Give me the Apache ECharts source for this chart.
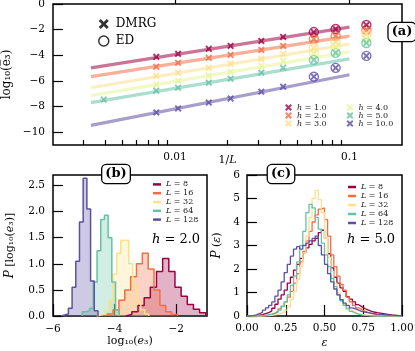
<!DOCTYPE html>
<html><head><meta charset="utf-8">
<script src="https://cdn.jsdelivr.net/npm/echarts@6/dist/echarts.min.js"></script>
<style>html,body{margin:0;padding:0;background:#fff}#c{width:415px;height:351px}</style>
</head><body><div id="c"></div>
<script>
// ================= Panel (a) data =================
const hLabels = ['1.0', '2.0', '3.0', '4.0', '5.0', '10.0'];
const sizesDMRG = [128, 96, 64, 48, 32, 24, 16, 12, 8];
const sizesDMRG_h5 = [256, 128, 96, 64, 48, 32, 24, 16, 12, 8];
const sizesED = [16, 12, 8];
const dmrg_h1 = [-4.12, -3.89, -3.50, -3.27, -2.88, -2.57, -2.19, -1.95, -1.64];
const dmrg_h2 = [-4.90, -4.59, -4.20, -3.97, -3.58, -3.27, -2.73, -2.50, -2.03];
const dmrg_h3 = [-5.60, -5.36, -4.98, -4.67, -4.28, -3.89, -3.43, -2.96, -2.34];
const dmrg_h4 = [-6.29, -5.98, -5.60, -5.29, -4.82, -4.43, -3.81, -3.35, -2.73];
const dmrg_h5 = [-7.46, -6.76, -6.53, -6.14, -5.83, -5.36, -4.98, -4.36, -3.81, -3.04];
const dmrg_h10 = [-8.46, -8.15, -7.69, -7.38, -6.84, -6.45, -5.67, -4.98, -4.05];
const ed_h1 = [-2.19, -1.95, -1.64];
const ed_h2 = [-2.73, -2.50, -2.03];
const ed_h3 = [-3.43, -2.96, -2.34];
const ed_h4 = [-3.81, -3.35, -2.73];
const ed_h5 = [-4.36, -3.81, -3.04];
const ed_h10 = [-5.67, -4.98, -4.05];
const fitInvL = [0.0033, 0.1];
const fit_h1 = [-4.98, -1.80];
const fit_h2 = [-5.67, -2.50];
const fit_h3 = [-6.53, -3.12];
const fit_h4 = [-7.15, -3.74];
const fit_h5 = [-7.69, -4.28];
const fit_h10 = [-9.47, -5.52];
const xMajorA = [0.01, 0.1];
const xMinorA = [0.003,0.004,0.005,0.006,0.007,0.008,0.009,0.02,0.03,0.04,0.05,0.06,0.07,0.08,0.09];
const yTicksA = [-10, -8, -6, -4, -2, 0];

// ================= Panel (b) data =================
const labelsL = ['8', '16', '32', '64', '128'];
const edgesB_L8 = [-3.64, -3.44, -3.24, -3.04, -2.84, -2.64, -2.44, -2.24, -2.04, -1.84, -1.64, -1.44, -1.24, -1.04];
const histB_L8 = [0.03, 0.08, 0.20, 0.35, 0.55, 0.85, 1.10, 0.85, 0.55, 0.38, 0.22, 0.13, 0.06];
const edgesB_L16 = [-4.24, -4.05, -3.86, -3.67, -3.48, -3.29, -3.10, -2.91, -2.72, -2.53, -2.34, -2.15, -1.96];
const histB_L16 = [0.04, 0.12, 0.30, 0.50, 0.75, 1.00, 1.20, 0.90, 0.50, 0.20, 0.08, 0.03];
const edgesB_L32 = [-4.58, -4.45, -4.32, -4.19, -4.06, -3.93, -3.80, -3.67, -3.54, -3.41, -3.28, -3.15, -3.02, -2.89];
const histB_L32 = [0.02, 0.04, 0.10, 0.30, 0.80, 1.20, 1.45, 1.45, 1.00, 0.60, 0.30, 0.12, 0.04];
const edgesB_L64 = [-5.05, -4.93, -4.81, -4.69, -4.57, -4.45, -4.33, -4.21, -4.09, -3.97, -3.85];
const histB_L64 = [0.08, 0.10, 0.15, 0.65, 1.25, 1.85, 1.93, 1.50, 0.65, 0.12];
const edgesB_L128 = [-5.74, -5.62, -5.50, -5.38, -5.26, -5.14, -5.02, -4.90, -4.78, -4.66, -4.54];
const histB_L128 = [0.02, 0.04, 0.15, 0.55, 1.05, 1.80, 2.64, 2.05, 0.67, 0.10];
const xTicksB = [-6, -4, -2];
const yTicksB = [0, 0.5, 1.0, 1.5, 2.0, 2.5];

// ================= Panel (c) data =================
const binStartC = 0.0, binWidthC = 0.02;
const histC_L8 = [0,0,0.02,0.04,0.06,0.10,0.14,0.22,0.33,0.50,0.72,0.90,1.10,1.40,1.65,1.95,2.20,2.45,2.70,2.90,3.05,3.20,3.30,3.55,3.65,3.30,2.65,2.05,1.65,1.40,1.20,1.05,0.82,0.72,0.60,0.48,0.40,0.32,0.26,0.21,0.17,0.14,0.12,0.10,0.08,0.06,0.04,0.03,0.02,0];
const histC_L16 = [0,0,0,0.01,0.02,0.03,0.05,0.08,0.12,0.20,0.30,0.42,0.60,0.80,1.05,1.40,1.80,2.30,2.75,3.20,3.60,4.00,4.30,4.55,4.60,4.10,3.40,2.60,2.10,1.70,1.35,1.10,0.80,0.60,0.45,0.35,0.28,0.20,0.15,0.11,0.08,0.06,0.04,0.03,0.02,0.01,0,0,0,0];
const histC_L32 = [0,0,0,0,0,0.01,0.02,0.03,0.05,0.07,0.10,0.15,0.25,0.40,0.70,1.05,1.55,2.10,2.70,3.40,4.20,5.00,5.35,4.95,4.40,3.30,2.50,1.90,1.40,1.00,0.70,0.50,0.35,0.25,0.16,0.10,0.07,0.05,0.03,0.02,0.01,0,0,0,0,0,0,0,0,0];
const histC_L64 = [0,0,0,0.01,0.02,0.03,0.05,0.07,0.10,0.15,0.25,0.40,0.60,0.90,1.30,1.70,2.30,3.00,3.60,4.40,4.75,4.60,4.20,3.70,3.10,2.60,2.10,1.60,1.25,0.90,0.65,0.45,0.30,0.20,0.12,0.08,0.05,0.03,0.02,0.01,0,0,0,0,0,0,0,0,0,0];
const histC_L128 = [0,0.02,0.05,0.10,0.15,0.25,0.35,0.45,0.60,0.85,1.10,1.45,1.85,2.20,2.55,2.85,2.95,2.85,3.00,3.10,3.20,3.30,3.40,3.00,2.60,2.20,1.80,1.45,1.15,0.90,0.70,0.55,0.45,0.35,0.30,0.25,0.20,0.17,0.14,0.12,0.10,0.08,0.07,0.06,0.05,0.04,0.04,0.03,0.02,0];
const xTicksC = [0, 0.25, 0.5, 0.75, 1.0];
const yTicksC = [0, 1, 2, 3, 4, 5, 6];

// ================= Styling =================
const FONT = 'DejaVu Serif';
const XPATH = 'path://M2,0L5,3L8,0L10,2L7,5L10,8L8,10L5,7L2,10L0,8L3,5L0,2Z';
const colorsA = ['#9e0142', '#f46d43', '#fee08b', '#e6f598', '#66c2a5', '#5e4fa2'];
const colorsBC = ['#9e0142', '#f46d43', '#fee08b', '#66c2a5', '#5e4fa2'];
const minus = v => (v < 0 ? '\u2212' : '') + Math.abs(v);
const lg = Math.log10;

const dmrgSizes = [sizesDMRG, sizesDMRG, sizesDMRG, sizesDMRG, sizesDMRG_h5, sizesDMRG];
const dmrgY = [dmrg_h1, dmrg_h2, dmrg_h3, dmrg_h4, dmrg_h5, dmrg_h10];
const edY = [ed_h1, ed_h2, ed_h3, ed_h4, ed_h5, ed_h10];
const fitY = [fit_h1, fit_h2, fit_h3, fit_h4, fit_h5, fit_h10];

const series = [];
hLabels.forEach((h, k) => {
  series.push({type: 'line', name: 'fit ' + h, xAxisIndex: 0, yAxisIndex: 0, symbol: 'none', silent: true, z: 1,
    data: fitInvL.map((x, j) => [lg(x), fitY[k][j]]),
    lineStyle: {color: colorsA[k], width: 3.2, opacity: 0.55}});
});
hLabels.forEach((h, k) => {
  series.push({type: 'scatter', name: 'ED ' + h, xAxisIndex: 0, yAxisIndex: 0, symbol: 'circle', symbolSize: 9, z: 2,
    data: sizesED.map((L, j) => [lg(1 / L), edY[k][j]]),
    itemStyle: {color: 'rgba(255,255,255,0)', borderColor: colorsA[k], borderWidth: 1.4}});
  series.push({type: 'scatter', name: 'h = ' + h, xAxisIndex: 0, yAxisIndex: 0, symbol: XPATH, symbolSize: 7, z: 3,
    data: dmrgSizes[k].map((L, j) => [lg(1 / L), dmrgY[k][j]]),
    itemStyle: {color: colorsA[k]}});
});
series.push({type: 'scatter', name: 'DMRG', xAxisIndex: 0, yAxisIndex: 0, data: [], symbol: XPATH, itemStyle: {color: '#000'}});
series.push({type: 'scatter', name: 'ED', xAxisIndex: 0, yAxisIndex: 0, data: [], symbol: 'circle',
  itemStyle: {color: 'rgba(255,255,255,0)', borderColor: '#000', borderWidth: 1.5}});

function stepData(edges, vals) {
  const d = [[edges[0], 0]];
  vals.forEach((v, i) => d.push([edges[i], v]));
  d.push([edges[edges.length - 1], 0]);
  return d;
}
const edgesB = [edgesB_L8, edgesB_L16, edgesB_L32, edgesB_L64, edgesB_L128];
const histB = [histB_L8, histB_L16, histB_L32, histB_L64, histB_L128];
labelsL.forEach((L, k) => {
  series.push({type: 'line', name: 'L = ' + L, xAxisIndex: 1, yAxisIndex: 1, step: 'end', symbol: 'none', z: 2,
    data: stepData(edgesB[k], histB[k]),
    lineStyle: {color: colorsBC[k], width: 1.5}, itemStyle: {color: colorsBC[k]},
    areaStyle: {color: colorsBC[k], opacity: 0.3}});
});
const histC = [histC_L8, histC_L16, histC_L32, histC_L64, histC_L128];
labelsL.forEach((L, k) => {
  const edges = [];
  for (let i = 0; i <= histC[k].length; i++) edges.push(+(binStartC + i * binWidthC).toFixed(4));
  series.push({type: 'line', name: 'L = ' + L, xAxisIndex: 3, yAxisIndex: 2, step: 'end', symbol: 'none', z: 2,
    data: stepData(edges, histC[k]),
    lineStyle: {color: colorsBC[k], width: 1.3}, itemStyle: {color: colorsBC[k]}});
});

const tickStyle = {color: '#000', width: 1.2};
const labelBase = {color: '#000', fontFamily: FONT, fontSize: 10.5};
const nameBase = {color: '#000', fontFamily: FONT, fontSize: 11, rich: {i: {fontStyle: 'italic', fontFamily: FONT, fontSize: 11}, p: {fontStyle: 'italic', fontFamily: FONT, fontSize: 12}}};
const legRich = {i: {fontStyle: 'italic', fontFamily: FONT, fontSize: 8}};
const gridBase = {show: true, borderColor: '#000', borderWidth: 1.5, backgroundColor: 'transparent', containLabel: false, outerBoundsMode: 'none'};

const option = {
  animation: false,
  backgroundColor: '#fff',
  grid: [
    Object.assign({left: 53, top: 4, width: 349, height: 141}, gridBase),
    Object.assign({left: 53, top: 175, width: 154, height: 141}, gridBase),
    Object.assign({left: 247, top: 175, width: 155, height: 141}, gridBase)
  ],
  xAxis: [
    {type: 'value', gridIndex: 0, min: lg(0.002), max: lg(0.2), position: 'bottom',
      axisLine: {show: false}, splitLine: {show: false},
      axisTick: {inside: true, length: 10, lineStyle: tickStyle, customValues: xMajorA.map(lg)},
      axisLabel: Object.assign({}, labelBase, {margin: 7, customValues: xMajorA.map(lg), formatter: v => String(+Math.pow(10, v).toPrecision(2))}),
      name: '1/{i|L}', nameLocation: 'middle', nameGap: 10, nameMoveOverlap: false, nameTextStyle: nameBase},
    {type: 'value', gridIndex: 1, min: -6, max: -1,
      axisLine: {show: false}, splitLine: {show: false},
      axisTick: {inside: true, length: 12, lineStyle: tickStyle, customValues: xTicksB},
      axisLabel: Object.assign({}, labelBase, {margin: 8, customValues: xTicksB, formatter: minus}),
      name: 'log₁₀({i|e}₃)', nameLocation: 'middle', nameGap: 20, nameMoveOverlap: false, nameTextStyle: nameBase},
    {type: 'value', gridIndex: 0, min: lg(0.002), max: lg(0.2), position: 'bottom',
      axisLine: {show: false}, splitLine: {show: false},
      axisTick: {inside: true, length: 5, lineStyle: tickStyle, customValues: xMinorA.map(lg)},
      axisLabel: {show: false}},
    {type: 'value', gridIndex: 2, min: 0, max: 1,
      axisLine: {show: false}, splitLine: {show: false},
      axisTick: {inside: true, length: 11, lineStyle: tickStyle, customValues: xTicksC},
      axisLabel: Object.assign({}, labelBase, {margin: 7, customValues: xTicksC, formatter: v => v.toFixed(2)}),
      name: '{i|ε}', nameLocation: 'middle', nameGap: 22, nameMoveOverlap: false, nameTextStyle: nameBase}
  ],
  yAxis: [
    {type: 'value', gridIndex: 0, min: -11, max: 0,
      axisLine: {show: false}, splitLine: {show: false},
      axisTick: {inside: true, length: 10, lineStyle: tickStyle, customValues: yTicksA},
      axisLabel: Object.assign({}, labelBase, {margin: 8, customValues: yTicksA, formatter: minus}),
      name: 'log₁₀(e̅₃)', nameLocation: 'middle', nameRotate: 90, nameGap: 40, nameMoveOverlap: false,
      nameTextStyle: Object.assign({}, nameBase, {fontSize: 12})},
    {type: 'value', gridIndex: 1, min: 0, max: 2.7,
      axisLine: {show: false}, splitLine: {show: false},
      axisTick: {inside: true, length: 10, lineStyle: tickStyle, customValues: yTicksB},
      axisLabel: Object.assign({}, labelBase, {margin: 8, customValues: yTicksB, formatter: v => v.toFixed(1)}),
      name: '{p|P} [log₁₀({i|e}₃)]', nameLocation: 'middle', nameRotate: 90, nameGap: 37, nameMoveOverlap: false, nameTextStyle: nameBase},
    {type: 'value', gridIndex: 2, min: 0, max: 6,
      axisLine: {show: false}, splitLine: {show: false},
      axisTick: {inside: true, length: 10, lineStyle: tickStyle, customValues: yTicksC},
      axisLabel: Object.assign({}, labelBase, {margin: 7, customValues: yTicksC}),
      name: '{p|P} ({i|ε})', nameLocation: 'middle', nameRotate: 90, nameGap: 24, nameMoveOverlap: false, nameTextStyle: nameBase}
  ],
  legend: [
    {data: [{name: 'DMRG', icon: XPATH}, {name: 'ED', icon: 'circle', itemStyle: {color: 'rgba(255,255,255,0)', borderColor: '#000', borderWidth: 1.5}}],
      left: 98, top: 18, orient: 'vertical', itemWidth: 10, itemHeight: 10, itemGap: 5, padding: 0, selectedMode: false,
      textStyle: {color: '#000', fontFamily: FONT, fontSize: 12, lineHeight: 12, padding: [0, 0, 0, 2]}},
    {data: hLabels.slice(0, 3).map(h => ({name: 'h = ' + h, icon: XPATH})),
      left: 285, top: 103.5, orient: 'vertical', itemWidth: 7, itemHeight: 7, itemGap: 0, padding: 0, selectedMode: false,
      formatter: n => '{i|h}' + n.slice(1), textStyle: {color: '#222', fontFamily: FONT, fontSize: 8, lineHeight: 7, rich: legRich}},
    {data: hLabels.slice(3).map(h => ({name: 'h = ' + h, icon: XPATH})),
      left: 346.5, top: 103.5, orient: 'vertical', itemWidth: 7, itemHeight: 7, itemGap: 0, padding: 0, selectedMode: false,
      formatter: n => '{i|h}' + n.slice(1), textStyle: {color: '#222', fontFamily: FONT, fontSize: 8, lineHeight: 7, rich: legRich}},
    {data: labelsL.map(L => ({name: 'L = ' + L, icon: 'rect'})),
      left: 153, top: 180, orient: 'vertical', itemWidth: 8, itemHeight: 2.5, itemGap: 0, padding: 0, selectedMode: false,
      formatter: n => '{i|L}' + n.slice(1), textStyle: {color: '#222', fontFamily: FONT, fontSize: 8, lineHeight: 8.8, rich: legRich}},
    {data: labelsL.map(L => ({name: 'L = ' + L, icon: 'rect'})),
      left: 348, top: 182.5, orient: 'vertical', itemWidth: 8, itemHeight: 2.5, itemGap: 0, padding: 0, selectedMode: false,
      formatter: n => '{i|L}' + n.slice(1), textStyle: {color: '#222', fontFamily: FONT, fontSize: 8, lineHeight: 9, rich: legRich}}
  ],
  graphic: [
    {type: 'text', x: 402, y: 32, z: 100, style: {text: '(a)', fontFamily: FONT, fontWeight: 'bold', fontSize: 13, fill: '#000', align: 'center', verticalAlign: 'middle',
      backgroundColor: '#fff', borderColor: '#000', borderWidth: 1.3, borderRadius: 4, padding: [3, 3, 2, 3]}},
    {type: 'text', x: 116, y: 174, z: 100, style: {text: '(b)', fontFamily: FONT, fontWeight: 'bold', fontSize: 13, fill: '#000', align: 'center', verticalAlign: 'middle',
      backgroundColor: '#fff', borderColor: '#000', borderWidth: 1.3, borderRadius: 4, padding: [3, 3, 2, 3]}},
    {type: 'text', x: 281, y: 174, z: 100, style: {text: '(c)', fontFamily: FONT, fontWeight: 'bold', fontSize: 13, fill: '#000', align: 'center', verticalAlign: 'middle',
      backgroundColor: '#fff', borderColor: '#000', borderWidth: 1.3, borderRadius: 4, padding: [3, 3, 2, 3]}},
    {type: 'text', x: 176, y: 240, z: 100, style: {text: '{i|h} = 2.0', fontFamily: FONT, fontSize: 13, fill: '#000', align: 'center', verticalAlign: 'middle',
      rich: {i: {fontStyle: 'italic', fontFamily: FONT, fontSize: 13}}}},
    {type: 'text', x: 371, y: 240, z: 100, style: {text: '{i|h} = 5.0', fontFamily: FONT, fontSize: 13, fill: '#000', align: 'center', verticalAlign: 'middle',
      rich: {i: {fontStyle: 'italic', fontFamily: FONT, fontSize: 13}}}}
  ],
  series: series
};
const chart = echarts.init(document.getElementById('c'), null, {renderer: 'canvas', width: 415, height: 351});
chart.setOption(option);
</script></body></html>
